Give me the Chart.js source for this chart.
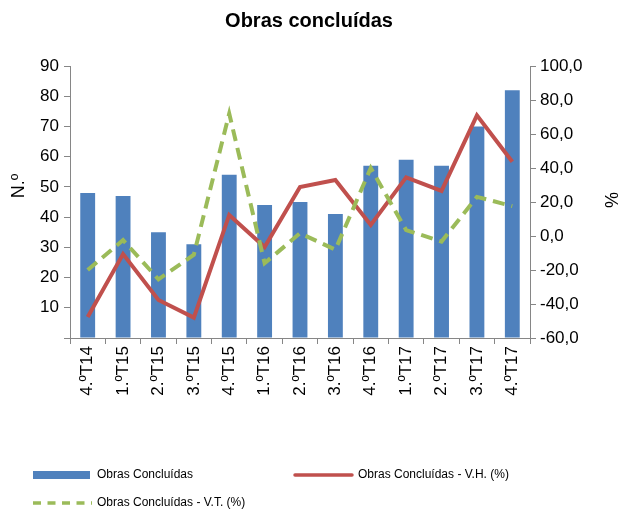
<!DOCTYPE html>
<html>
<head>
<meta charset="utf-8">
<script src="https://cdn.jsdelivr.net/npm/chart.js@4/dist/chart.umd.min.js"></script>
<style>
  html, body { margin: 0; padding: 0; background: #fff; }
  #wrap { width: 620px; height: 512px; position: relative; }
</style>
</head>
<body>
<div id="wrap"><canvas id="myChart" width="620" height="512"></canvas></div>
<script>
var quarters = ['4.ºT14', '1.ºT15', '2.ºT15', '3.ºT15', '4.ºT15', '1.ºT16', '2.ºT16', '3.ºT16', '4.ºT16', '1.ºT17', '2.ºT17', '3.ºT17', '4.ºT17'];
var obras = [48, 47, 35, 31, 54, 44, 45, 41, 57, 59, 57, 70, 82];
var varHomologa = [-47.6, -10.6, -37.6, -48, 12.4, -6.5, 28.8, 32.9, 6.5, 34.5, 26.5, 71, 43.7];
var varTrimestral = [-20, -2.4, -25.5, -11, 72, -16, 1.6, -8, 40, 3.5, -3.3, 23, 17.6];

var FONT = 'Liberation Sans, Arial, sans-serif';
var AXIS = '#868686';

// title, axis titles and legend drawn by hand, the reference layout is two fixed columns
var extras = {
  id: 'extras',
  afterDraw: function(chart) {
    var ctx = chart.ctx;
    var ds = chart.data.datasets;
    ctx.save();
    ctx.fillStyle = '#000';
    ctx.font = 'bold 20px ' + FONT;
    ctx.textAlign = 'center';
    ctx.textBaseline = 'middle';
    ctx.fillText('Obras concluídas', 309, 21);

    ctx.font = '18px ' + FONT;
    ctx.save();
    ctx.translate(19, 186);
    ctx.rotate(-Math.PI / 2);
    ctx.fillText('N.º', 0, 0);
    ctx.restore();
    ctx.save();
    ctx.translate(610, 200);
    ctx.rotate(Math.PI / 2);
    ctx.fillText('%', 0, 0);
    ctx.restore();

    ctx.font = '12px ' + FONT;
    ctx.textAlign = 'left';
    // bars
    ctx.fillStyle = ds[0].backgroundColor;
    ctx.fillRect(33, 471, 57, 8);
    ctx.fillStyle = '#000';
    ctx.fillText(ds[0].label, 97, 475);
    // V.H.
    ctx.strokeStyle = ds[1].borderColor;
    ctx.lineWidth = 3.5;
    ctx.lineCap = 'round';
    ctx.beginPath(); ctx.moveTo(295, 475); ctx.lineTo(352, 475); ctx.stroke();
    ctx.fillText(ds[1].label, 358, 475);
    // V.T.
    ctx.strokeStyle = ds[2].borderColor;
    ctx.lineCap = 'butt';
    ctx.setLineDash([8, 6.5]);
    ctx.beginPath(); ctx.moveTo(33, 503); ctx.lineTo(92, 503); ctx.stroke();
    ctx.setLineDash([]);
    ctx.fillText(ds[2].label, 97, 503);
    ctx.restore();
  }
};

var ctx = document.getElementById('myChart').getContext('2d');
new Chart(ctx, {
  type: 'bar',
  data: {
    labels: quarters,
    datasets: [
      {
        label: 'Obras Concluídas',
        data: obras,
        backgroundColor: '#4F81BD',
        borderWidth: 0,
        barPercentage: 0.42,
        categoryPercentage: 1,
        yAxisID: 'y',
        order: 3
      },
      {
        type: 'line',
        label: 'Obras Concluídas - V.H. (%)',
        data: varHomologa,
        borderColor: '#C0504D',
        backgroundColor: '#C0504D',
        borderWidth: 4,
        pointRadius: 0,
        tension: 0,
        yAxisID: 'y1',
        order: 2
      },
      {
        type: 'line',
        label: 'Obras Concluídas - V.T. (%)',
        data: varTrimestral,
        borderColor: '#9BBB59',
        backgroundColor: '#9BBB59',
        borderWidth: 4,
        borderDash: [12, 7],
        pointRadius: 0,
        tension: 0,
        yAxisID: 'y1',
        order: 1
      }
    ]
  },
  options: {
    responsive: false,
    animation: false,
    layout: { padding: { top: 66, left: 0, right: 0, bottom: 0 } },
    plugins: {
      legend: { display: false },
      title: { display: false },
      tooltip: { enabled: false }
    },
    scales: {
      x: {
        grid: { display: true, drawOnChartArea: false, offset: true, color: AXIS, tickLength: 6, tickColor: AXIS },
        border: { color: AXIS, width: 1 },
        ticks: { color: '#000', font: { family: FONT, size: 17 }, maxRotation: 90, minRotation: 90, autoSkip: false, padding: 2 },
        afterFit: function(s) { s.height = 174; }
      },
      y: {
        position: 'left',
        min: 0, max: 90,
        grid: { display: true, drawOnChartArea: false, color: AXIS, tickLength: 6, tickColor: AXIS },
        border: { color: AXIS, width: 1 },
        ticks: {
          stepSize: 10, color: '#000', padding: 5,
          font: { family: FONT, size: 17 },
          callback: function(v) { return v === 0 ? '' : v; }
        },
        afterFit: function(s) { s.width = 70; }
      },
      y1: {
        position: 'right',
        min: -60, max: 100,
        grid: { display: true, drawOnChartArea: false, color: AXIS, tickLength: 6, tickColor: AXIS },
        border: { color: AXIS, width: 1 },
        ticks: {
          stepSize: 20, color: '#000', padding: 4,
          font: { family: FONT, size: 17 },
          callback: function(v) { return v.toFixed(1).replace('.', ','); }
        },
        afterFit: function(s) { s.width = 90; }
      }
    }
  },
  plugins: [extras]
});
</script>
</body>
</html>
